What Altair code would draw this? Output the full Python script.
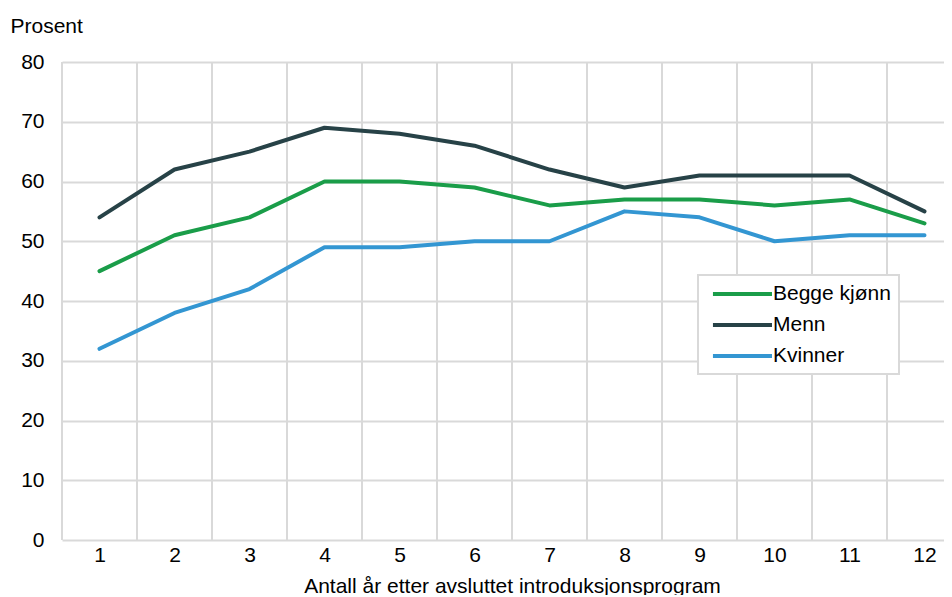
import altair as alt
import pandas as pd

years = list(range(1, 13))
begge = [45, 51, 54, 60, 60, 59, 56, 57, 57, 56, 57, 53]
menn = [54, 62, 65, 69, 68, 66, 62, 59, 61, 61, 61, 55]
kvinner = [32, 38, 42, 49, 49, 50, 50, 55, 54, 50, 51, 51]
series_names = ["Begge kjønn", "Menn", "Kvinner"]
series_colors = ["#1a9d49", "#274247", "#3396d2"]
y_ticks = [0, 10, 20, 30, 40, 50, 60, 70, 80]

rows = []
for name, vals in zip(series_names, [begge, menn, kvinner]):
    for yr, v in zip(years, vals):
        rows.append({"year": yr, "value": v, "serie": name})
df = pd.DataFrame(rows)

grid_df = pd.DataFrame({"gx": [y - 0.5 for y in years]})

FONT = "Liberation Sans"
FS = 21
PLOT_W = 882
xscale = alt.Scale(domain=[0.5, 0.5 + PLOT_W / 75.0], nice=False, zero=False)
yscale = alt.Scale(domain=[0, 80], nice=False)

vgrid = alt.Chart(grid_df).mark_rule(color="#d9d9d9", strokeWidth=2).encode(
    x=alt.X("gx:Q", scale=xscale),
    y=alt.value(0),
    y2=alt.value(478),
)

lines = alt.Chart(df).mark_line(strokeWidth=4, strokeCap="round", strokeJoin="round").encode(
    x=alt.X(
        "year:Q",
        scale=xscale,
        axis=alt.Axis(
            values=years,
            format="d",
            grid=False,
            ticks=False,
            domain=False,
            labelFont=FONT,
            labelFontSize=FS,
            labelColor="#000000",
            labelPadding=4,
            title="Antall år etter avsluttet introduksjonsprogram",
            titleFont=FONT,
            titleFontSize=FS,
            titleFontWeight="normal",
            titleColor="#000000",
            titleX=450,
            titleY=52,
            titleAlign="center",
            titleBaseline="alphabetic",
        ),
    ),
    y=alt.Y(
        "value:Q",
        scale=yscale,
        axis=alt.Axis(
            values=y_ticks,
            grid=True,
            gridColor="#d9d9d9",
            gridWidth=2,
            ticks=False,
            domain=False,
            labelFont=FONT,
            labelFontSize=FS,
            labelColor="#000000",
            labelPadding=18,
            title="Prosent",
            titleFont=FONT,
            titleFontSize=FS,
            titleFontWeight="normal",
            titleColor="#000000",
            titleAngle=0,
            titleX=-52,
            titleY=-30,
            titleAlign="left",
            titleBaseline="alphabetic",
        ),
    ),
    color=alt.Color(
        "serie:N",
        scale=alt.Scale(domain=series_names, range=series_colors),
        sort=series_names,
        legend=alt.Legend(
            title=None,
            orient="none",
            legendX=636,
            legendY=213,
            symbolType="M-0.45,0H6.11",
            symbolSize=324,
            symbolStrokeWidth=4,
            labelFont=FONT,
            labelFontSize=FS,
            labelColor="#000000",
            labelOffset=45,
            labelExpr="datum.label + '\u2003'",
            rowPadding=10,
            padding=8,
            strokeColor="#d9d9d9",
            fillColor="#ffffff",
        ),
    ),
)

chart = (
    alt.layer(vgrid, lines)
    .properties(
        width=PLOT_W,
        height=478,
        autosize=alt.AutoSizeParams(type="none"),
        padding={"left": 54, "top": 54, "right": 0, "bottom": 55},
    )
    .configure_view(stroke=None)
    .configure_legend(strokeWidth=2)
)

chart.save("out.html", embed_options={"renderer": "svg", "actions": False})
